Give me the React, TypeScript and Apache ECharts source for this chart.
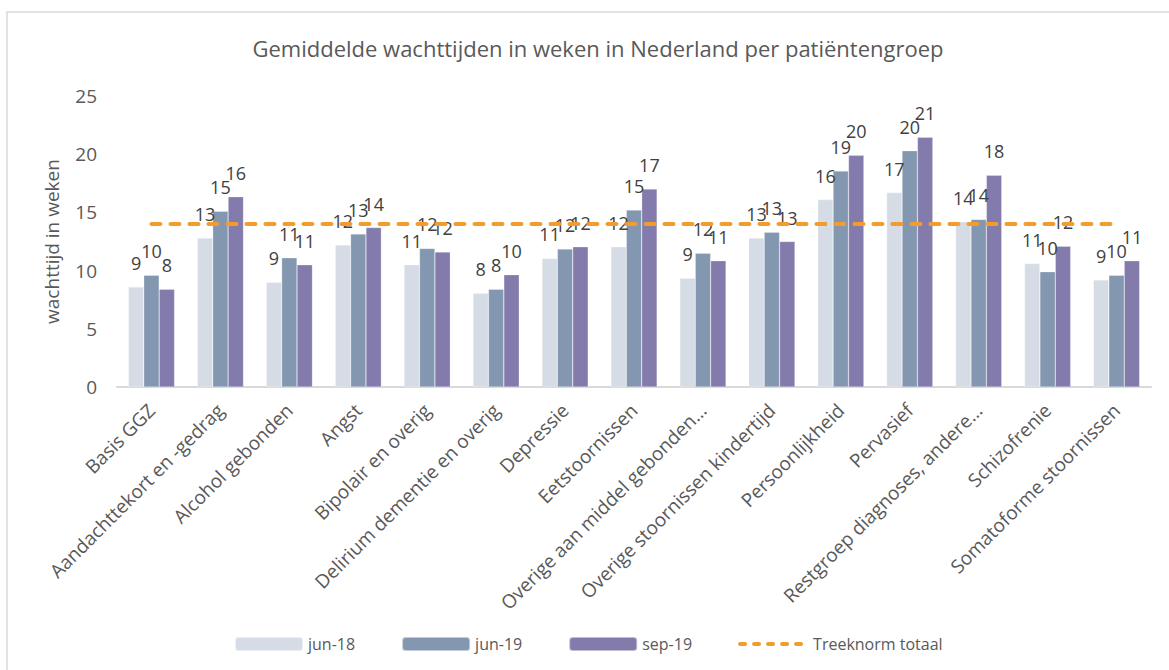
import React, { useEffect, useRef } from "react";
import * as echarts from "echarts";

const categories = [
  "Basis GGZ",
  "Aandachttekort en -gedrag",
  "Alcohol gebonden",
  "Angst",
  "Bipolair en overig",
  "Delirium dementie en overig",
  "Depressie",
  "Eetstoornissen",
  "Overige aan middel gebonden…",
  "Overige stoornissen kindertijd",
  "Persoonlijkheid",
  "Pervasief",
  "Restgroep diagnoses, andere…",
  "Schizofrenie",
  "Somatoforme stoornissen",
];

const jun18 = [8.6, 12.8, 9.0, 12.2, 10.5, 8.05, 11.05, 12.05, 9.35, 12.8, 16.1, 16.7, 14.2, 10.6, 9.2];
const jun19 = [9.6, 15.1, 11.1, 13.15, 11.9, 8.4, 11.85, 15.2, 11.5, 13.3, 18.55, 20.3, 14.4, 9.9, 9.6];
const sep19 = [8.4, 16.35, 10.5, 13.7, 11.6, 9.65, 12.05, 17.0, 10.85, 12.5, 19.9, 21.45, 18.2, 12.1, 10.85];
const treeknorm = [14, 14, 14, 14, 14, 14, 14, 14, 14, 14, 14, 14, 14, 14, 14];

const seriesNames = ["jun-18", "jun-19", "sep-19", "Treeknorm totaal"];
const yTicks = { min: 0, max: 25, interval: 5 };

const FONT = "'Open Sans', 'Noto Sans', sans-serif";

export default function App() {
  const ref = useRef<HTMLDivElement>(null);

  useEffect(() => {
    if (!ref.current) return;
    const chart = echarts.init(ref.current, undefined, { renderer: "svg" });

    const barLabel = {
      show: true,
      position: "top" as const,
      distance: 15,
      color: "#404040",
      fontSize: 18,
      fontFamily: FONT,
      formatter: (p: any) => String(Math.round(p.value)),
    };

    const mkBar = (name: string, data: number[], color: string) => ({
      name,
      type: "bar",
      data,
      barGap: "0%",
      barCategoryGap: "33%",
      itemStyle: { color, borderColor: "rgba(255,255,255,0.5)", borderWidth: 0.5 },
      label: barLabel,
    });

    chart.setOption({
      animation: false,
      textStyle: { fontFamily: FONT },
      title: {
        text: "Gemiddelde wachttijden in weken in Nederland per patiëntengroep",
        left: 593,
        textAlign: "center",
        top: 32,
        textStyle: { fontSize: 22, fontWeight: "normal", color: "#595959", fontFamily: FONT },
      },
      graphic: [
        {
          type: "rect",
          shape: { x: 7, y: 12, width: 1200, height: 700 },
          style: { fill: "none", stroke: "#D9D9D9", lineWidth: 1.5 },
          silent: true,
        },
      ],
      legend: {
        left: 229,
        top: 631,
        itemWidth: 68,
        itemHeight: 14,
        itemGap: 46,
        textStyle: { fontSize: 16, color: "#595959", fontFamily: FONT },
        data: [
          seriesNames[0],
          seriesNames[1],
          seriesNames[2],
          {
            name: seriesNames[3],
            itemStyle: { opacity: 0, color: "transparent", borderWidth: 0 },
            lineStyle: { type: [5, 9], cap: "round", width: 4 },
          },
        ],
      },
      grid: { left: 117, right: 18, top: 96, bottom: 283, containLabel: false },
      xAxis: {
        type: "category",
        data: categories,
        axisLine: { lineStyle: { color: "#D9D9D9", width: 2 } },
        axisTick: { show: false },
        axisLabel: {
          rotate: 45,
          interval: 0,
          margin: 20,
          fontSize: 19,
          color: "#595959",
          fontFamily: FONT,
        },
      },
      yAxis: {
        type: "value",
        min: yTicks.min,
        max: yTicks.max,
        interval: yTicks.interval,
        name: "wachttijd in weken",
        nameLocation: "middle",
        nameGap: 56,
        nameTextStyle: { fontSize: 19, color: "#595959", fontFamily: FONT },
        axisLine: { show: false },
        axisTick: { show: false },
        splitLine: { show: false },
        axisLabel: { fontSize: 19, color: "#595959", margin: 20, fontFamily: FONT },
      },
      series: [
        mkBar(seriesNames[0], jun18, "#D6DCE5"),
        mkBar(seriesNames[1], jun19, "#8497B0"),
        mkBar(seriesNames[2], sep19, "#837BAB"),
        {
          name: seriesNames[3],
          type: "line",
          data: treeknorm,
          showSymbol: false,
          symbol: "none",
          lineStyle: { color: "#F29C2E", width: 4, type: [9, 10], cap: "round" },
          itemStyle: { color: "#F29C2E" },
          z: 5,
        },
      ],
    });

    return () => chart.dispose();
  }, []);

  return (
    <div
      ref={ref}
      style={{ position: "absolute", left: 0, top: 0, width: 1169, height: 670, background: "#fff" }}
    />
  );
}
